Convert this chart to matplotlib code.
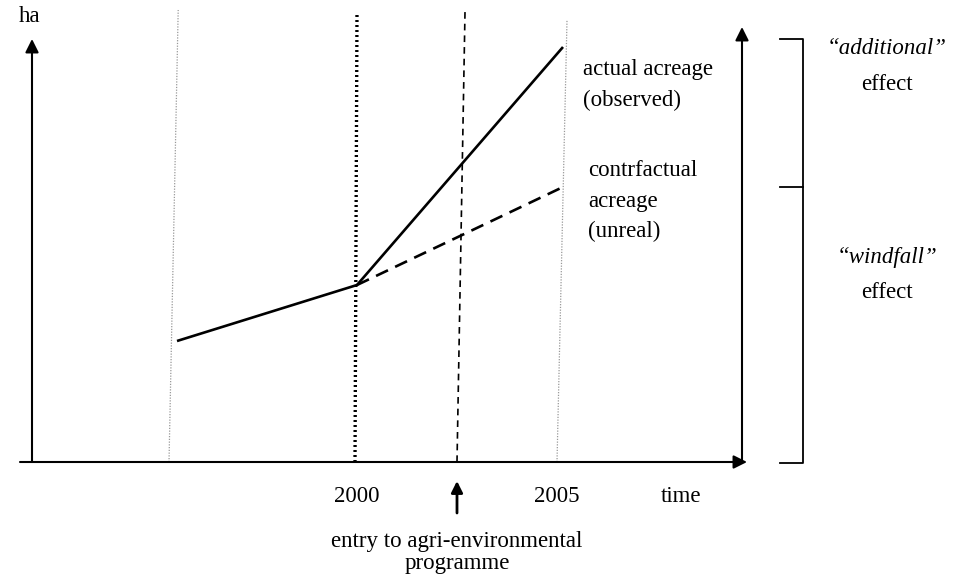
import matplotlib.pyplot as plt

# schematic values: x in years, y in hectares (arbitrary units)
actual_years = [1995.5, 2000.0, 2005.15]
actual_ha = [12.1, 17.7, 41.5]
counter_years = [2000.0, 2005.15]
counter_ha = [17.7, 27.5]

year_2000 = 2000.0
year_2005 = 2005.0
entry_year = 2002.5
start_year = 1995.3

tick_labels = ["2000", "2005"]

plt.rcParams['font.family'] = ['Liberation Serif', 'DejaVu Serif']

fig = plt.figure(figsize=(9.55, 5.77), dpi=100)
ax = fig.add_axes([0, 0, 1, 1])
ax.set_xlim(1991.075, 2014.95)
ax.set_ylim(-11.5, 46.2)
ax.axis("off")

# vertical reference lines (slightly slanted as in the scan)
ax.plot([start_year, start_year + 0.23], [0, 45.2], color="#999999", lw=0.9, ls=(0, (1, 1.2)))
ax.plot([year_2000 - 0.05, year_2000], [0, 45.0], color="black", lw=2.4, ls=(0, (0.6, 0.9)))
ax.plot([entry_year, entry_year + 0.2], [0, 45.0], color="black", lw=1.2, ls=(0, (4, 3)))
ax.plot([year_2005, year_2005 + 0.25], [0, 44.2], color="#999999", lw=0.9, ls=(0, (1, 1.2)))

# acreage lines
ax.plot(actual_years, actual_ha, color="black", lw=1.9, solid_capstyle="butt")
ax.plot(counter_years, counter_ha, color="black", lw=1.9, ls=(0, (5, 3)))

# axes with arrows
arrow = dict(arrowstyle="-|>", color="black", lw=1.5, mutation_scale=20, shrinkA=0, shrinkB=0)
ax.annotate("", xy=(1991.875, 42.3), xytext=(1991.875, 0), arrowprops=arrow)
ax.annotate("", xy=(2009.75, 0), xytext=(1991.575, 0), arrowprops=arrow)
ax.annotate("", xy=(2009.625, 43.5), xytext=(2009.625, 0), arrowprops=arrow)

# bracket for effects
bx, bt = 2011.15, 2010.575
ax.plot([bt, bx, bx, bt], [42.3, 42.3, -0.1, -0.1], color="black", lw=1.3)
ax.plot([bt, bx], [counter_ha[-1], counter_ha[-1]], color="black", lw=1.3)

# entry arrow
ax.annotate("", xy=(entry_year, -1.9), xytext=(entry_year, -5.1),
            arrowprops=dict(arrowstyle="-|>", color="black", lw=2.0, mutation_scale=17,
                            shrinkA=0, shrinkB=0))

fs = 16.5
ax.text(1991.55, 44.5, "ha", fontsize=fs, ha="left", va="center")
for yr, lab in zip([year_2000, year_2005], tick_labels):
    ax.text(yr, -3.4, lab, fontsize=fs, ha="center", va="center")
ax.text(2008.1, -3.4, "time", fontsize=fs, ha="center", va="center")
ax.text(entry_year, -7.9, "entry to agri-environmental", fontsize=fs, ha="center", va="center")
ax.text(entry_year, -10.2, "programme", fontsize=fs, ha="center", va="center")

ax.text(2005.65, 39.2, "actual acreage", fontsize=fs, ha="left", va="center")
ax.text(2005.65, 36.2, "(observed)", fontsize=fs, ha="left", va="center")
ax.text(2005.78, 29.1, "contrfactual", fontsize=fs, ha="left", va="center")
ax.text(2005.78, 26.1, "acreage", fontsize=fs, ha="left", va="center")
ax.text(2005.78, 23.1, "(unreal)", fontsize=fs, ha="left", va="center")

cx = 2013.25
ax.text(cx, 41.3, "\u201cadditional\u201d", fontsize=fs, ha="center", va="center", style="italic")
ax.text(cx, 37.7, "effect", fontsize=fs, ha="center", va="center")
ax.text(cx, 20.4, "\u201cwindfall\u201d", fontsize=fs, ha="center", va="center", style="italic")
ax.text(cx, 16.9, "effect", fontsize=fs, ha="center", va="center")

fig.savefig("out.png", dpi=100)
